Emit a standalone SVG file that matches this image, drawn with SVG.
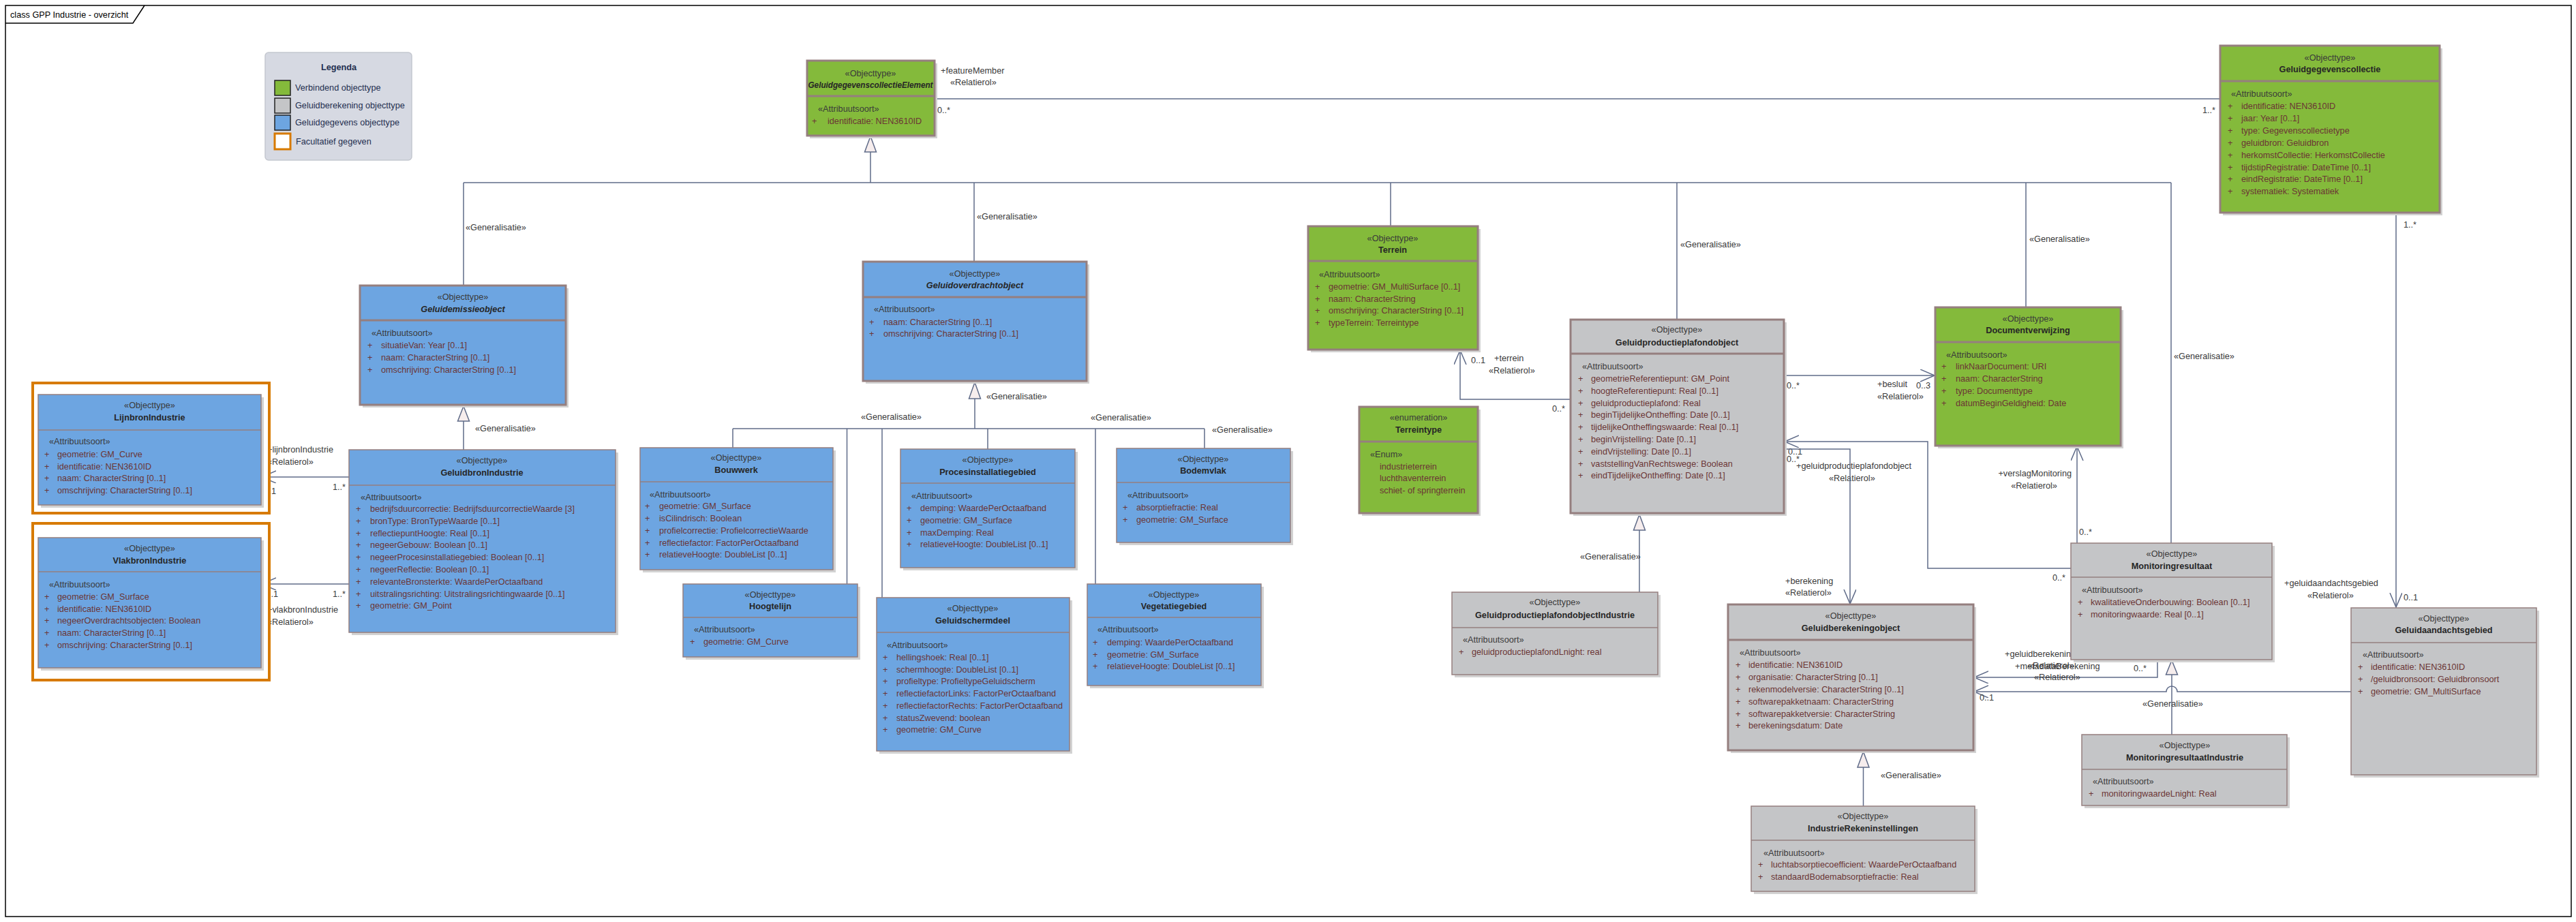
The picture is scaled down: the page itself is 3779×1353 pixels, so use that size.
<svg xmlns="http://www.w3.org/2000/svg" width="3779" height="1353" viewBox="0 0 3779 1353">
<style>
text{font-family:"Liberation Sans",Arial,sans-serif;font-size:12.7px}
.sh{fill:#d2d2d2}
.box{stroke:#957f7f;stroke-width:1.5}
.thk{stroke-width:3}
.g{fill:#84ba3b}
.b{fill:#6da5e1}
.gr{fill:#c4c5c7}
.dv{stroke:#957f7f;stroke-width:1.5}
.dvt{stroke:#957f7f;stroke-width:3}
.st{fill:#3a3a3a;text-anchor:middle}
.nm{fill:#262626;text-anchor:middle;font-weight:bold}
.nmi{fill:#262626;text-anchor:middle;font-weight:bold;font-style:italic}
.as{fill:#3a3a3a}
.at{fill:#6b3535}
.lb{fill:#3a3a3a}
.ln{fill:none;stroke:#5f6b88;stroke-width:1.5}
.tri{fill:#f6eded;stroke:#5f6b88;stroke-width:1.5}
.fr{fill:#ffffff;stroke:#d77a00;stroke-width:4}
.lg{fill:#1f2f50}
</style>
<defs>
<marker id="open" markerWidth="24" markerHeight="20" refX="21" refY="9" orient="auto" markerUnits="userSpaceOnUse"><path d="M0,0 L21,9 L0,18" fill="none" stroke="#5f6b88" stroke-width="1.5"/></marker>
</defs>
<rect x="0" y="0" width="3779" height="1353" fill="#ffffff"/>
<g id="frame">
<rect x="8" y="8" width="3764" height="1337" fill="none" stroke="#000" stroke-width="1.5"/>
<path d="M8,34 H195 L212,8" fill="none" stroke="#000" stroke-width="1.5"/>
<text x="15" y="26" fill="#000" font-size="12.9">class GPP Industrie - overzicht</text>
</g>
<g id="legenda">
<rect x="389" y="77" width="215" height="158" rx="5" fill="#d6d9e2" stroke="#c4c7cf" stroke-width="1.5"/>
<text x="497" y="103" class="lg" font-size="15" font-weight="bold" text-anchor="middle">Legenda</text>
<rect x="403" y="118" width="23" height="22" fill="#84ba3b" stroke="#222" stroke-width="1.5"/>
<rect x="403" y="144" width="23" height="22" fill="#c4c5c7" stroke="#222" stroke-width="1.5"/>
<rect x="403" y="169" width="23" height="22" fill="#6da5e1" stroke="#222" stroke-width="1.5"/>
<rect x="403" y="196" width="23" height="23" fill="#ffffff" stroke="#d77a00" stroke-width="3"/>
<text x="433" y="133" class="lg">Verbindend objecttype</text>
<text x="433" y="159" class="lg">Geluidberekening objecttype</text>
<text x="433" y="184" class="lg">Geluidgegevens objecttype</text>
<text x="434" y="212" class="lg">Facultatief gegeven</text>
</g>

<g id="connectors">
<!-- generalisation bus top -->
<path class="ln" d="M680,268 H3185"/>
<path class="ln" d="M1277,223 V268"/>
<polygon class="tri" points="1277,200 1268.5,223 1285.5,223"/>
<path class="ln" d="M680,268 V419"/>
<path class="ln" d="M1429,268 V384"/>
<path class="ln" d="M2040,268 V332"/>
<path class="ln" d="M2460,268 V469"/>
<path class="ln" d="M2972,268 V451"/>
<path class="ln" d="M3185,268 V797"/>
<text x="683" y="338" class="lb">«Generalisatie»</text>
<text x="1433" y="322" class="lb">«Generalisatie»</text>
<text x="2465" y="363" class="lb">«Generalisatie»</text>
<text x="2977" y="355" class="lb">«Generalisatie»</text>
<text x="3189" y="527" class="lb">«Generalisatie»</text>
<!-- geluidoverdracht bus -->
<path class="ln" d="M1430,585 V629"/>
<polygon class="tri" points="1430,561 1421.5,585 1438.5,585"/>
<path class="ln" d="M1075,629 H1767"/>
<path class="ln" d="M1075,629 V657"/>
<path class="ln" d="M1242.5,629 V857"/>
<path class="ln" d="M1294,629 V877"/>
<path class="ln" d="M1449,629 V659"/>
<path class="ln" d="M1607,629 V857"/>
<path class="ln" d="M1767,629 V658"/>
<text x="1447" y="586" class="lb">«Generalisatie»</text>
<text x="1263" y="616" class="lb">«Generalisatie»</text>
<text x="1600" y="617" class="lb">«Generalisatie»</text>
<text x="1778" y="635" class="lb">«Generalisatie»</text>
<!-- geluidbron -> geluidemissie -->
<path class="ln" d="M680,618 V660"/>
<polygon class="tri" points="680,596 671.5,618 688.5,618"/>
<text x="697" y="633" class="lb">«Generalisatie»</text>
<!-- GPP industrie -> GPP -->
<path class="ln" d="M2405,778 V869"/>
<polygon class="tri" points="2405,755 2396.5,778 2413.5,778"/>
<text x="2318" y="821" class="lb">«Generalisatie»</text>
<!-- IndustrieRek -> Geluidberekening -->
<path class="ln" d="M2733.5,1126 V1183"/>
<polygon class="tri" points="2733.5,1103 2725,1126 2742,1126"/>
<text x="2759" y="1142" class="lb">«Generalisatie»</text>
<!-- MonitoringIndustrie -> Monitoring -->
<path class="ln" d="M3186,990 V1078"/>
<polygon class="tri" points="3186,969 3177.5,990 3194.5,990"/>
<!-- featureMember -->
<path class="ln" d="M1371,145 H3257"/>
<text x="1380" y="108" class="lb">+featureMember</text>
<text x="1394" y="125" class="lb">«Relatierol»</text>
<text x="1375" y="166" class="lb">0..*</text>
<text x="3231" y="166" class="lb">1..*</text>
<!-- lijnbron -->
<path class="ln" d="M512,700 H384" marker-end="url(#open)"/>
<text x="392" y="664" class="lb">+lijnbronIndustrie</text>
<text x="392" y="682" class="lb">«Relatierol»</text>
<text x="384" y="725" class="lb">0..1</text>
<text x="488" y="719" class="lb">1..*</text>
<!-- vlakbron -->
<path class="ln" d="M512,857 H384" marker-end="url(#open)"/>
<text x="387" y="876" class="lb">0..1</text>
<text x="488" y="876" class="lb">1..*</text>
<text x="392" y="899" class="lb">+vlakbronIndustrie</text>
<text x="392" y="917" class="lb">«Relatierol»</text>
<!-- terrein -->
<path class="ln" d="M2304,586 H2142 V514" marker-end="url(#open)"/>
<text x="2158" y="533" class="lb">0..1</text>
<text x="2192" y="530" class="lb">+terrein</text>
<text x="2184" y="548" class="lb">«Relatierol»</text>
<text x="2277" y="604" class="lb">0..*</text>
<!-- besluit -->
<path class="ln" d="M2617,551 H2838" marker-end="url(#open)"/>
<text x="2621" y="570" class="lb">0..*</text>
<text x="2754" y="568" class="lb">+besluit</text>
<text x="2811" y="570" class="lb">0..3</text>
<text x="2754" y="586" class="lb">«Relatierol»</text>
<!-- monitoring -> GPP -->
<path class="ln" d="M3038,834 H2828 V648 H2618" marker-end="url(#open)"/>
<text x="3011" y="852" class="lb">0..*</text>
<text x="2623" y="667" class="lb">0..1</text>
<text x="2621" y="678" class="lb">0..*</text>
<text x="2635" y="688" class="lb">+geluidproductieplafondobject</text>
<text x="2683" y="706" class="lb">«Relatierol»</text>
<!-- GPP -> berekening -->
<path class="ln" d="M2617,659 H2714 V886" marker-end="url(#open)"/>
<text x="2619" y="857" class="lb">+berekening</text>
<text x="2619" y="874" class="lb">«Relatierol»</text>
<!-- verslagMonitoring -->
<path class="ln" d="M3047,797 V655" marker-end="url(#open)"/>
<text x="3039" y="699" class="lb" text-anchor="end">+verslagMonitoring</text>
<text x="2984" y="717" class="lb" text-anchor="middle">«Relatierol»</text>
<text x="3050" y="785" class="lb">0..*</text>
<!-- collectie -> geluidaandachtsgebied -->
<path class="ln" d="M3515,312 V891" marker-end="url(#open)"/>
<text x="3526" y="334" class="lb">1..*</text>
<text x="3526" y="881" class="lb">0..1</text>
<text x="3351" y="860" class="lb">+geluidaandachtsgebied</text>
<text x="3385" y="878" class="lb">«Relatierol»</text>
<!-- monitoring -> geluidberekening -->
<path class="ln" d="M3165,968 V994 H2896" marker-end="url(#open)"/>
<text x="3130" y="985" class="lb">0..*</text>
<text x="2941" y="964" class="lb">+geluidberekeningobject</text>
<text x="2956" y="982" class="lb">+metadataBerekening</text>
<text x="2975" y="981" class="lb">«Relatierol»</text>
<text x="2984" y="998" class="lb">«Relatierol»</text>
<!-- geluidaandachtsgebied -> geluidberekening -->
<path class="ln" d="M3449,1015 H3194 A8,8 0 0 0 3178,1015 H2896" marker-end="url(#open)"/>
<text x="2904" y="1028" class="lb">0..1</text>
<text x="3143" y="1037" class="lb">«Generalisatie»</text>
</g>

<g id="GeluidgegevenscollectieElement">
<rect class="sh" x="1188" y="93" width="187" height="110"/>
<rect class="box thk g" x="1184" y="89" width="187" height="110"/>
<line class="dvt" x1="1184" y1="141" x2="1371" y2="141"/>
<text x="1277" y="112" class="st">«Objecttype»</text>
<text x="1277" y="129" class="nmi" textLength="183" lengthAdjust="spacingAndGlyphs">GeluidgegevenscollectieElement</text>
<text x="1200" y="164" class="as">«Attribuutsoort»</text>
<text x="1191" y="182" class="at">+</text><text x="1214" y="182" class="at">identificatie: NEN3610ID</text>
</g>

<g id="Geluidgegevenscollectie">
<rect class="sh" x="3261" y="71" width="322" height="245"/>
<rect class="box thk g" x="3257" y="67" width="322" height="245"/>
<line class="dvt" x1="3257" y1="119" x2="3579" y2="119"/>
<text x="3418" y="89" class="st">«Objecttype»</text>
<text x="3418" y="106" class="nm">Geluidgegevenscollectie</text>
<text x="3273" y="142" class="as">«Attribuutsoort»</text>
<g class="at">
<text x="3268" y="160">+</text><text x="3288" y="160">identificatie: NEN3610ID</text>
<text x="3268" y="178">+</text><text x="3288" y="178">jaar: Year [0..1]</text>
<text x="3268" y="196">+</text><text x="3288" y="196">type: Gegevenscollectietype</text>
<text x="3268" y="214">+</text><text x="3288" y="214">geluidbron: Geluidbron</text>
<text x="3268" y="232">+</text><text x="3288" y="232">herkomstCollectie: HerkomstCollectie</text>
<text x="3268" y="250">+</text><text x="3288" y="250">tijdstipRegistratie: DateTime [0..1]</text>
<text x="3268" y="267">+</text><text x="3288" y="267">eindRegistratie: DateTime [0..1]</text>
<text x="3268" y="285">+</text><text x="3288" y="285">systematiek: Systematiek</text>
</g>
</g>

<g id="Geluidemissieobject">
<rect class="sh" x="532" y="423" width="302" height="175"/>
<rect class="box thk b" x="528" y="419" width="302" height="175"/>
<line class="dvt" x1="528" y1="470" x2="830" y2="470"/>
<text x="679" y="440" class="st">«Objecttype»</text>
<text x="679" y="458" class="nmi">Geluidemissieobject</text>
<text x="545" y="493" class="as">«Attribuutsoort»</text>
<g class="at">
<text x="539" y="511">+</text><text x="559" y="511">situatieVan: Year [0..1]</text>
<text x="539" y="529">+</text><text x="559" y="529">naam: CharacterString [0..1]</text>
<text x="539" y="547">+</text><text x="559" y="547">omschrijving: CharacterString [0..1]</text>
</g>
</g>

<g id="GeluidbronIndustrie">
<rect class="sh" x="516" y="664" width="391" height="268"/>
<rect class="box b" x="512" y="660" width="391" height="268"/>
<line class="dv" x1="512" y1="712" x2="903" y2="712"/>
<text x="707" y="680" class="st">«Objecttype»</text>
<text x="707" y="698" class="nm">GeluidbronIndustrie</text>
<text x="529" y="734" class="as">«Attribuutsoort»</text>
<g class="at">
<text x="522" y="751">+</text><text x="543" y="751">bedrijfsduurcorrectie: BedrijfsduurcorrectieWaarde [3]</text>
<text x="522" y="769">+</text><text x="543" y="769">bronType: BronTypeWaarde [0..1]</text>
<text x="522" y="787">+</text><text x="543" y="787">reflectiepuntHoogte: Real [0..1]</text>
<text x="522" y="804">+</text><text x="543" y="804">negeerGebouw: Boolean [0..1]</text>
<text x="522" y="822">+</text><text x="543" y="822">negeerProcesinstallatiegebied: Boolean [0..1]</text>
<text x="522" y="840">+</text><text x="543" y="840">negeerReflectie: Boolean [0..1]</text>
<text x="522" y="858">+</text><text x="543" y="858">relevanteBronsterkte: WaardePerOctaafband</text>
<text x="522" y="876">+</text><text x="543" y="876">uitstralingsrichting: Uitstralingsrichtingwaarde [0..1]</text>
<text x="522" y="893">+</text><text x="543" y="893">geometrie: GM_Point</text>
</g>
</g>

<g id="LijnbronIndustrie">
<rect class="fr" x="48" y="562" width="347" height="191"/>
<rect class="sh" x="60" y="583" width="327" height="162"/>
<rect class="box b" x="56" y="579" width="327" height="162"/>
<line class="dv" x1="56" y1="631" x2="383" y2="631"/>
<text x="219.5" y="599" class="st">«Objecttype»</text>
<text x="219.5" y="617" class="nm">LijnbronIndustrie</text>
<text x="72" y="652" class="as">«Attribuutsoort»</text>
<g class="at">
<text x="65" y="671">+</text><text x="84" y="671">geometrie: GM_Curve</text>
<text x="65" y="689">+</text><text x="84" y="689">identificatie: NEN3610ID</text>
<text x="65" y="706">+</text><text x="84" y="706">naam: CharacterString [0..1]</text>
<text x="65" y="724">+</text><text x="84" y="724">omschrijving: CharacterString [0..1]</text>
</g>
</g>

<g id="VlakbronIndustrie">
<rect class="fr" x="48" y="768" width="347" height="230"/>
<rect class="sh" x="60" y="793" width="327" height="191"/>
<rect class="box b" x="56" y="789" width="327" height="191"/>
<line class="dv" x1="56" y1="839" x2="383" y2="839"/>
<text x="219.5" y="809" class="st">«Objecttype»</text>
<text x="219.5" y="827" class="nm">VlakbronIndustrie</text>
<text x="72" y="862" class="as">«Attribuutsoort»</text>
<g class="at">
<text x="65" y="880">+</text><text x="84" y="880">geometrie: GM_Surface</text>
<text x="65" y="898">+</text><text x="84" y="898">identificatie: NEN3610ID</text>
<text x="65" y="915">+</text><text x="84" y="915">negeerOverdrachtsobjecten: Boolean</text>
<text x="65" y="933">+</text><text x="84" y="933">naam: CharacterString [0..1]</text>
<text x="65" y="951">+</text><text x="84" y="951">omschrijving: CharacterString [0..1]</text>
</g>
</g>

<g id="Geluidoverdrachtobject">
<rect class="sh" x="1270" y="388" width="328" height="175"/>
<rect class="box thk b" x="1266" y="384" width="328" height="175"/>
<line class="dvt" x1="1266" y1="436" x2="1594" y2="436"/>
<text x="1430" y="406" class="st">«Objecttype»</text>
<text x="1430" y="423" class="nmi">Geluidoverdrachtobject</text>
<text x="1282" y="458" class="as">«Attribuutsoort»</text>
<g class="at">
<text x="1275" y="477">+</text><text x="1296" y="477">naam: CharacterString [0..1]</text>
<text x="1275" y="494">+</text><text x="1296" y="494">omschrijving: CharacterString [0..1]</text>
</g>
</g>

<g id="Bouwwerk">
<rect class="sh" x="943" y="661" width="283" height="179"/>
<rect class="box b" x="939" y="657" width="283" height="179"/>
<line class="dv" x1="939" y1="707" x2="1222" y2="707"/>
<text x="1080" y="676" class="st">«Objecttype»</text>
<text x="1080" y="694" class="nm">Bouwwerk</text>
<text x="953" y="730" class="as">«Attribuutsoort»</text>
<g class="at">
<text x="946" y="747">+</text><text x="967" y="747">geometrie: GM_Surface</text>
<text x="946" y="765">+</text><text x="967" y="765">isCilindrisch: Boolean</text>
<text x="946" y="783">+</text><text x="967" y="783">profielcorrectie: ProfielcorrectieWaarde</text>
<text x="946" y="801">+</text><text x="967" y="801">reflectiefactor: FactorPerOctaafband</text>
<text x="946" y="818">+</text><text x="967" y="818">relatieveHoogte: DoubleList [0..1]</text>
</g>
</g>

<g id="Hoogtelijn">
<rect class="sh" x="1006" y="861" width="256" height="107"/>
<rect class="box b" x="1002" y="857" width="256" height="107"/>
<line class="dv" x1="1002" y1="906" x2="1258" y2="906"/>
<text x="1130" y="877" class="st">«Objecttype»</text>
<text x="1130" y="894" class="nm">Hoogtelijn</text>
<text x="1018" y="928" class="as">«Attribuutsoort»</text>
<text x="1012" y="946" class="at">+</text><text x="1032" y="946" class="at">geometrie: GM_Curve</text>
</g>

<g id="Procesinstallatiegebied">
<rect class="sh" x="1325" y="663" width="256" height="174"/>
<rect class="box b" x="1321" y="659" width="256" height="174"/>
<line class="dv" x1="1321" y1="709" x2="1577" y2="709"/>
<text x="1449" y="679" class="st">«Objecttype»</text>
<text x="1449" y="697" class="nm">Procesinstallatiegebied</text>
<text x="1337" y="732" class="as">«Attribuutsoort»</text>
<g class="at">
<text x="1330" y="750">+</text><text x="1350" y="750">demping: WaardePerOctaafband</text>
<text x="1330" y="768">+</text><text x="1350" y="768">geometrie: GM_Surface</text>
<text x="1330" y="786">+</text><text x="1350" y="786">maxDemping: Real</text>
<text x="1330" y="803">+</text><text x="1350" y="803">relatieveHoogte: DoubleList [0..1]</text>
</g>
</g>

<g id="Bodemvlak">
<rect class="sh" x="1642" y="662" width="255" height="138"/>
<rect class="box b" x="1638" y="658" width="255" height="138"/>
<line class="dv" x1="1638" y1="708" x2="1893" y2="708"/>
<text x="1765" y="678" class="st">«Objecttype»</text>
<text x="1765" y="695" class="nm">Bodemvlak</text>
<text x="1654" y="731" class="as">«Attribuutsoort»</text>
<g class="at">
<text x="1647" y="749">+</text><text x="1667" y="749">absorptiefractie: Real</text>
<text x="1647" y="767">+</text><text x="1667" y="767">geometrie: GM_Surface</text>
</g>
</g>

<g id="Geluidschermdeel">
<rect class="sh" x="1290" y="881" width="283" height="225"/>
<rect class="box b" x="1286" y="877" width="283" height="225"/>
<line class="dv" x1="1286" y1="928" x2="1569" y2="928"/>
<text x="1427" y="897" class="st">«Objecttype»</text>
<text x="1427" y="915" class="nm">Geluidschermdeel</text>
<text x="1301" y="951" class="as">«Attribuutsoort»</text>
<g class="at">
<text x="1295" y="969">+</text><text x="1315" y="969">hellingshoek: Real [0..1]</text>
<text x="1295" y="987">+</text><text x="1315" y="987">schermhoogte: DoubleList [0..1]</text>
<text x="1295" y="1004">+</text><text x="1315" y="1004">profieltype: ProfieltypeGeluidscherm</text>
<text x="1295" y="1022">+</text><text x="1315" y="1022">reflectiefactorLinks: FactorPerOctaafband</text>
<text x="1295" y="1040">+</text><text x="1315" y="1040">reflectiefactorRechts: FactorPerOctaafband</text>
<text x="1295" y="1058">+</text><text x="1315" y="1058">statusZwevend: boolean</text>
<text x="1295" y="1075">+</text><text x="1315" y="1075">geometrie: GM_Curve</text>
</g>
</g>

<g id="Vegetatiegebied">
<rect class="sh" x="1599" y="861" width="255" height="149"/>
<rect class="box b" x="1595" y="857" width="255" height="149"/>
<line class="dv" x1="1595" y1="906" x2="1850" y2="906"/>
<text x="1722" y="877" class="st">«Objecttype»</text>
<text x="1722" y="894" class="nm">Vegetatiegebied</text>
<text x="1610" y="928" class="as">«Attribuutsoort»</text>
<g class="at">
<text x="1603" y="947">+</text><text x="1624" y="947">demping: WaardePerOctaafband</text>
<text x="1603" y="965">+</text><text x="1624" y="965">geometrie: GM_Surface</text>
<text x="1603" y="982">+</text><text x="1624" y="982">relatieveHoogte: DoubleList [0..1]</text>
</g>
</g>

<g id="Terrein">
<rect class="sh" x="1923" y="336" width="249" height="181"/>
<rect class="box thk g" x="1919" y="332" width="249" height="181"/>
<line class="dvt" x1="1919" y1="383" x2="2168" y2="383"/>
<text x="2043" y="354" class="st">«Objecttype»</text>
<text x="2043" y="371" class="nm">Terrein</text>
<text x="1935" y="407" class="as">«Attribuutsoort»</text>
<g class="at">
<text x="1929" y="425">+</text><text x="1949" y="425">geometrie: GM_MultiSurface [0..1]</text>
<text x="1929" y="443">+</text><text x="1949" y="443">naam: CharacterString</text>
<text x="1929" y="460">+</text><text x="1949" y="460">omschrijving: CharacterString [0..1]</text>
<text x="1929" y="478">+</text><text x="1949" y="478">typeTerrein: Terreintype</text>
</g>
</g>

<g id="Terreintype">
<rect class="sh" x="1998" y="601" width="174" height="156"/>
<rect class="box thk g" x="1994" y="597" width="174" height="156"/>
<line class="dvt" x1="1994" y1="648" x2="2168" y2="648"/>
<text x="2081" y="617" class="st">«enumeration»</text>
<text x="2081" y="635" class="nm">Terreintype</text>
<text x="2010" y="671" class="as">«Enum»</text>
<g class="at">
<text x="2024" y="689">industrieterrein</text>
<text x="2024" y="706">luchthaventerrein</text>
<text x="2024" y="724">schiet- of springterrein</text>
</g>
</g>

<g id="Geluidproductieplafondobject">
<rect class="sh" x="2308" y="473" width="313" height="284"/>
<rect class="box thk gr" x="2304" y="469" width="313" height="284"/>
<line class="dvt" x1="2304" y1="519" x2="2617" y2="519"/>
<text x="2460" y="488" class="st">«Objecttype»</text>
<text x="2460" y="507" class="nm">Geluidproductieplafondobject</text>
<text x="2321" y="542" class="as">«Attribuutsoort»</text>
<g class="at">
<text x="2315" y="560">+</text><text x="2334" y="560">geometrieReferentiepunt: GM_Point</text>
<text x="2315" y="578">+</text><text x="2334" y="578">hoogteReferentiepunt: Real [0..1]</text>
<text x="2315" y="596">+</text><text x="2334" y="596">geluidproductieplafond: Real</text>
<text x="2315" y="613">+</text><text x="2334" y="613">beginTijdelijkeOntheffing: Date [0..1]</text>
<text x="2315" y="631">+</text><text x="2334" y="631">tijdelijkeOntheffingswaarde: Real [0..1]</text>
<text x="2315" y="649">+</text><text x="2334" y="649">beginVrijstelling: Date [0..1]</text>
<text x="2315" y="667">+</text><text x="2334" y="667">eindVrijstelling: Date [0..1]</text>
<text x="2315" y="685">+</text><text x="2334" y="685">vaststellingVanRechtswege: Boolean</text>
<text x="2315" y="702">+</text><text x="2334" y="702">eindTijdelijkeOntheffing: Date [0..1]</text>
</g>
</g>

<g id="Documentverwijzing">
<rect class="sh" x="2843" y="455" width="272" height="203"/>
<rect class="box thk g" x="2839" y="451" width="272" height="203"/>
<line class="dvt" x1="2839" y1="502" x2="3111" y2="502"/>
<text x="2975" y="472" class="st">«Objecttype»</text>
<text x="2975" y="489" class="nm">Documentverwijzing</text>
<text x="2855" y="525" class="as">«Attribuutsoort»</text>
<g class="at">
<text x="2848" y="542">+</text><text x="2869" y="542">linkNaarDocument: URI</text>
<text x="2848" y="560">+</text><text x="2869" y="560">naam: CharacterString</text>
<text x="2848" y="578">+</text><text x="2869" y="578">type: Documenttype</text>
<text x="2848" y="596">+</text><text x="2869" y="596">datumBeginGeldigheid: Date</text>
</g>
</g>

<g id="GeluidproductieplafondobjectIndustrie">
<rect class="sh" x="2134" y="873" width="302" height="121"/>
<rect class="box gr" x="2130" y="869" width="302" height="121"/>
<line class="dv" x1="2130" y1="921" x2="2432" y2="921"/>
<text x="2281" y="888" class="st">«Objecttype»</text>
<text x="2281" y="907" class="nm">GeluidproductieplafondobjectIndustrie</text>
<text x="2146" y="943" class="as">«Attribuutsoort»</text>
<text x="2140" y="961" class="at">+</text><text x="2159" y="961" class="at">geluidproductieplafondLnight: real</text>
</g>

<g id="Geluidberekeningobject">
<rect class="sh" x="2539" y="891" width="360" height="214"/>
<rect class="box thk gr" x="2535" y="887" width="360" height="214"/>
<line class="dvt" x1="2535" y1="939" x2="2895" y2="939"/>
<text x="2715" y="908" class="st">«Objecttype»</text>
<text x="2715" y="926" class="nm">Geluidberekeningobject</text>
<text x="2552" y="962" class="as">«Attribuutsoort»</text>
<g class="at">
<text x="2546" y="980">+</text><text x="2565" y="980">identificatie: NEN3610ID</text>
<text x="2546" y="998">+</text><text x="2565" y="998">organisatie: CharacterString [0..1]</text>
<text x="2546" y="1016">+</text><text x="2565" y="1016">rekenmodelversie: CharacterString [0..1]</text>
<text x="2546" y="1034">+</text><text x="2565" y="1034">softwarepakketnaam: CharacterString</text>
<text x="2546" y="1052">+</text><text x="2565" y="1052">softwarepakketversie: CharacterString</text>
<text x="2546" y="1069">+</text><text x="2565" y="1069">berekeningsdatum: Date</text>
</g>
</g>

<g id="IndustrieRekeninstellingen">
<rect class="sh" x="2573" y="1187" width="328" height="125"/>
<rect class="box gr" x="2569" y="1183" width="328" height="125"/>
<line class="dv" x1="2569" y1="1233" x2="2897" y2="1233"/>
<text x="2733" y="1202" class="st">«Objecttype»</text>
<text x="2733" y="1220" class="nm">IndustrieRekeninstellingen</text>
<text x="2587" y="1256" class="as">«Attribuutsoort»</text>
<g class="at">
<text x="2579" y="1273">+</text><text x="2598" y="1273">luchtabsorptiecoefficient: WaardePerOctaafband</text>
<text x="2579" y="1291">+</text><text x="2598" y="1291">standaardBodemabsorptiefractie: Real</text>
</g>
</g>

<g id="Monitoringresultaat">
<rect class="sh" x="3042" y="801" width="295" height="171"/>
<rect class="box gr" x="3038" y="797" width="295" height="171"/>
<line class="dv" x1="3038" y1="847" x2="3333" y2="847"/>
<text x="3186" y="817" class="st">«Objecttype»</text>
<text x="3186" y="835" class="nm">Monitoringresultaat</text>
<text x="3054" y="870" class="as">«Attribuutsoort»</text>
<g class="at">
<text x="3048" y="888">+</text><text x="3067" y="888">kwalitatieveOnderbouwing: Boolean [0..1]</text>
<text x="3048" y="906">+</text><text x="3067" y="906">monitoringwaarde: Real [0..1]</text>
</g>
</g>

<g id="MonitoringresultaatIndustrie">
<rect class="sh" x="3058" y="1082" width="301" height="104"/>
<rect class="box gr" x="3054" y="1078" width="301" height="104"/>
<line class="dv" x1="3054" y1="1129" x2="3355" y2="1129"/>
<text x="3205" y="1098" class="st">«Objecttype»</text>
<text x="3205" y="1116" class="nm">MonitoringresultaatIndustrie</text>
<text x="3070" y="1151" class="as">«Attribuutsoort»</text>
<text x="3064" y="1169" class="at">+</text><text x="3083" y="1169" class="at">monitoringwaardeLnight: Real</text>
</g>

<g id="Geluidaandachtsgebied">
<rect class="sh" x="3453" y="896" width="272" height="245"/>
<rect class="box gr" x="3449" y="892" width="272" height="245"/>
<line class="dv" x1="3449" y1="943" x2="3721" y2="943"/>
<text x="3585" y="912" class="st">«Objecttype»</text>
<text x="3585" y="929" class="nm">Geluidaandachtsgebied</text>
<text x="3466" y="965" class="as">«Attribuutsoort»</text>
<g class="at">
<text x="3459" y="983">+</text><text x="3478" y="983">identificatie: NEN3610ID</text>
<text x="3459" y="1001">+</text><text x="3478" y="1001">/geluidbronsoort: Geluidbronsoort</text>
<text x="3459" y="1019">+</text><text x="3478" y="1019">geometrie: GM_MultiSurface</text>
</g>
</g>
</svg>
